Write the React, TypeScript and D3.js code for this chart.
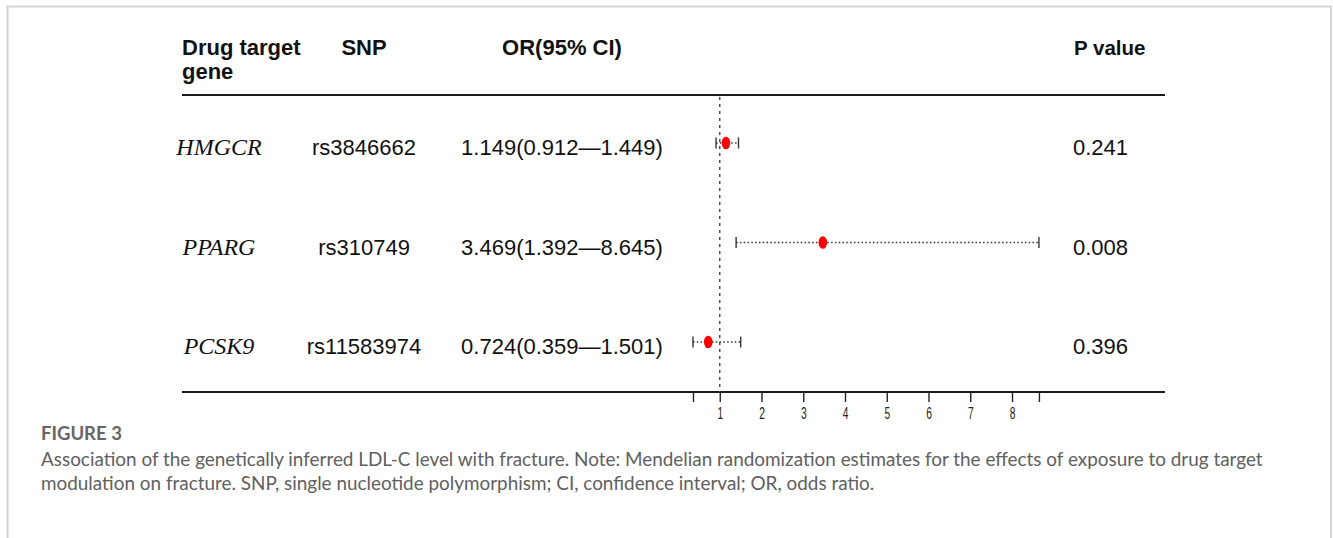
import * as d3 from "d3";
import { useEffect, useRef } from "react";

const genes = ["HMGCR", "PPARG", "PCSK9"];
const snps = ["rs3846662", "rs310749", "rs11583974"];
const orValues = [1.149, 3.469, 0.724];
const ciLower = [0.912, 1.392, 0.359];
const ciUpper = [1.449, 8.645, 1.501];
const pValues = ["0.241", "0.008", "0.396"];
const axisTicks = [1, 2, 3, 4, 5, 6, 7, 8];
const headers = ["Drug target", "gene", "SNP", "OR(95% CI)", "P value"];
const captionTitle = "FIGURE 3";
const captionLines = [
  "Association of the genetically inferred LDL-C level with fracture. Note: Mendelian randomization estimates for the effects of exposure to drug target",
  "modulation on fracture. SNP, single nucleotide polymorphism; CI, confidence interval; OR, odds ratio.",
];

const W = 1333;
const H = 538;

export default function App() {
  const ref = useRef<SVGSVGElement | null>(null);

  useEffect(() => {
    const el = ref.current;
    if (!el) return;
    const svg = d3.select(el);
    svg.selectAll("*").remove();

    const sans = "'Liberation Sans', Arial, sans-serif";
    const serif = "'Liberation Serif', 'Times New Roman', serif";
    const capFont = "Lato, 'Open Sans', sans-serif";

    svg.append("rect").attr("width", W).attr("height", H).attr("fill", "#fff");

    // light frame around the figure
    svg.append("path")
      .attr("d", `M7.5,${H} V6.5 H1331 V${H}`)
      .attr("fill", "none")
      .attr("stroke", "#d4d4d4")
      .attr("stroke-width", 2);

    const x = d3.scaleLinear().domain([0, 8]).range([678, 1012]);
    const y = d3.scalePoint<string>().domain(genes).range([143, 342]);

    const colGene = 219;
    const colSnp = 364;
    const colOr = 562;
    const colP = 1073;
    const ruleTop = 95;
    const ruleBottom = 392;
    const ruleL = 182;
    const ruleR = 1165;

    // header
    const hdr = svg.append("g")
      .attr("font-family", sans)
      .attr("font-weight", "bold")
      .attr("font-size", 22)
      .attr("fill", "#111");
    hdr.append("text").attr("x", 182).attr("y", 55).text(headers[0]);
    hdr.append("text").attr("x", 182).attr("y", 79).text(headers[1]);
    hdr.append("text").attr("x", colSnp).attr("y", 55).attr("text-anchor", "middle").text(headers[2]);
    hdr.append("text").attr("x", colOr).attr("y", 55).attr("text-anchor", "middle").text(headers[3]);
    hdr.append("text").attr("x", colP + 1).attr("y", 55).attr("font-size", 20.5).text(headers[4]);

    // horizontal rules
    for (const ry of [ruleTop, ruleBottom]) {
      svg.append("line")
        .attr("x1", ruleL).attr("x2", ruleR)
        .attr("y1", ry).attr("y2", ry)
        .attr("stroke", "#1a1a1a").attr("stroke-width", 2);
    }

    // reference line at OR = 1
    svg.append("line")
      .attr("x1", x(1)).attr("x2", x(1))
      .attr("y1", ruleTop + 2).attr("y2", ruleBottom)
      .attr("stroke", "#444")
      .attr("stroke-width", 1.4)
      .attr("stroke-dasharray", "3,4");

    // rows
    const rows = svg.selectAll("g.row")
      .data(genes)
      .join("g")
      .attr("class", "row");

    rows.append("text")
      .attr("x", colGene)
      .attr("y", (d) => (y(d) ?? 0) + 12)
      .attr("text-anchor", "middle")
      .attr("font-family", serif)
      .attr("font-style", "italic")
      .attr("font-size", 24)
      .attr("fill", "#111")
      .text((d) => d);

    const cell = (cx: number, anchor: string, txt: (i: number) => string) =>
      rows.append("text")
        .attr("x", cx)
        .attr("y", (d) => (y(d) ?? 0) + 12)
        .attr("text-anchor", anchor)
        .attr("font-family", sans)
        .attr("font-size", 22)
        .attr("fill", "#111")
        .text((_, i) => txt(i));

    cell(colSnp, "middle", (i) => snps[i]);
    cell(colOr, "middle", (i) =>
      `${orValues[i].toFixed(3)}(${ciLower[i].toFixed(3)}\u2014${ciUpper[i].toFixed(3)})`,
    );
    cell(colP, "start", (i) => pValues[i]);

    // confidence intervals
    rows.append("line")
      .attr("x1", (_, i) => x(ciLower[i]))
      .attr("x2", (_, i) => x(ciUpper[i]))
      .attr("y1", (d) => y(d) ?? 0)
      .attr("y2", (d) => y(d) ?? 0)
      .attr("stroke", "#333")
      .attr("stroke-width", 1.6)
      .attr("stroke-dasharray", "1.5,2.3");

    for (const side of [ciLower, ciUpper]) {
      rows.append("line")
        .attr("x1", (_, i) => x(side[i]))
        .attr("x2", (_, i) => x(side[i]))
        .attr("y1", (d) => (y(d) ?? 0) - 5.5)
        .attr("y2", (d) => (y(d) ?? 0) + 5.5)
        .attr("stroke", "#333")
        .attr("stroke-width", 1.4);
    }

    rows.append("ellipse")
      .attr("cx", (_, i) => x(orValues[i]))
      .attr("cy", (d) => y(d) ?? 0)
      .attr("rx", 4.3)
      .attr("ry", 6.3)
      .attr("fill", "#ff0000");

    // x axis (ticks include CI extremes, labels only integers)
    const lo = d3.min(ciLower) ?? 0;
    const hi = d3.max(ciUpper) ?? 8;
    const ax = svg.append("g")
      .attr("transform", `translate(0,${ruleBottom})`)
      .call(
        d3.axisBottom(x)
          .tickValues([lo, ...axisTicks, hi])
          .tickSize(10)
          .tickPadding(5)
          .tickFormat((v) => (axisTicks.includes(+v) ? String(v) : "")),
      );
    ax.select(".domain").remove();
    ax.selectAll(".tick line").attr("stroke", "#222").attr("stroke-width", 1.4);
    ax.selectAll(".tick text")
      .attr("fill", "#222")
      .attr("font-size", 17)
      .attr("font-family", sans)
      .attr("transform", "scale(0.6,1)");

    // caption
    svg.append("text")
      .attr("x", 41)
      .attr("y", 440)
      .attr("font-family", capFont)
      .attr("font-weight", "bold")
      .attr("font-size", 18.5)
      .attr("fill", "#666")
      .text(captionTitle);

    svg.append("g")
      .selectAll("text")
      .data(captionLines)
      .join("text")
      .attr("x", 41)
      .attr("y", (_, i) => 466 + i * 24)
      .attr("font-family", capFont)
      .attr("font-size", 18.9)
      .attr("fill", "#606060")
      .text((d) => d);
  }, []);

  return (
    <svg
      ref={ref}
      width={W}
      height={H}
      style={{ position: "absolute", left: 0, top: 0 }}
    />
  );
}
